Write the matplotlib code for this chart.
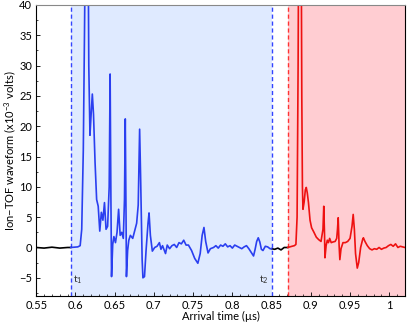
import matplotlib
matplotlib.use('Agg')
import matplotlib.pyplot as plt
import numpy as np

plt.rcParams['font.family'] = ['Lato', 'DejaVu Sans']
plt.rcParams['mathtext.fontset'] = 'custom'
plt.rcParams['mathtext.rm'] = 'Lato'
plt.rcParams['mathtext.it'] = 'Lato:italic'

# gate times (us)
t1 = 0.594
t2 = 0.85
t3 = 0.8706

# ion-TOF trace, (arrival time us, signal x1e-3 V)
time = [
    0.55, 0.56, 0.57, 0.58, 0.59, 0.594,
    0.603, 0.606, 0.608, 0.610, 0.6115, 0.612, 0.6165, 0.617, 0.6185, 0.620,
    0.6215, 0.623, 0.625, 0.627, 0.629, 0.631, 0.633, 0.635, 0.637, 0.639,
    0.641, 0.643, 0.6442, 0.6452, 0.646, 0.6475, 0.649, 0.651, 0.653, 0.655,
    0.657, 0.659, 0.661, 0.6625, 0.6635, 0.6645, 0.665, 0.6665, 0.668, 0.670,
    0.673, 0.676, 0.678, 0.680, 0.6818, 0.683, 0.685, 0.686, 0.688, 0.690,
    0.6925, 0.6938, 0.6955, 0.698, 0.701, 0.704, 0.707, 0.709, 0.711, 0.7148,
    0.717, 0.720, 0.723, 0.726, 0.729, 0.732, 0.735, 0.738, 0.741, 0.744,
    0.748, 0.752, 0.756, 0.759, 0.7615, 0.7638, 0.766, 0.769, 0.772, 0.776,
    0.779, 0.782, 0.785, 0.788, 0.791, 0.794, 0.797, 0.800, 0.803, 0.806,
    0.809, 0.812, 0.815, 0.818, 0.821, 0.824, 0.827, 0.829, 0.831, 0.833,
    0.835, 0.837, 0.839, 0.842, 0.845, 0.848, 0.85,
    0.854, 0.858, 0.862, 0.866, 0.8706,
    0.876, 0.879, 0.881, 0.8825, 0.8838, 0.8842, 0.8880, 0.8885, 0.8893, 0.890,
    0.8915, 0.893, 0.8942, 0.8955, 0.897, 0.899, 0.901, 0.904, 0.907, 0.910,
    0.913, 0.9155, 0.9165, 0.9175, 0.918, 0.9195, 0.921, 0.9225, 0.924, 0.926,
    0.928, 0.931, 0.933, 0.934, 0.9349, 0.936, 0.937, 0.9385, 0.941, 0.944,
    0.947, 0.950, 0.9525, 0.954, 0.9555, 0.957, 0.9592, 0.961, 0.9635, 0.966,
    0.967, 0.969, 0.972, 0.975, 0.978, 0.981, 0.984, 0.987, 0.990, 0.993,
    0.996, 0.999, 1.002, 1.005, 1.008, 1.011, 1.014, 1.017, 1.02,
]
signal = [
    0.0, -0.1, 0.05, -0.1, 0.0, 0.0,
    0.1, 0.3, 3, 16, 35, 42, 42, 30, 18.5, 22,
    25.3, 22, 14, 7.9, 6.8, 2.7, 5.8, 4.5, 7.4, 3,
    3.5, 10, 28.6, 8, -4.8, 0.5, 1.8, 0.8, 2.5, 6.3,
    2, 2.5, 1.5, 8, 21.2, 5, -4.8, -0.5, 1.2, 2.0,
    1.5, 3.0, 4.0, 7, 19.5, 12, -2, -5, -4.8, -0.5,
    4, 5.7, 2, -0.6, 0.0, 0.2, 0.8, -0.3, 0.3, -1.0,
    0.4, -0.2, 0.3, 0.5, 0.0, 0.8, 0.6, 1.2, 0.4, 0.4,
    -0.5, -1.8, -2.6, -1.0, 2.0, 3.3, 1.0, -0.9, -0.2, 0.0,
    0.3, -0.1, 0.4, 0.2, 0.6, 0.1, 0.3, -0.1, 0.4, 0.2,
    0.0, -0.2, 0.1, 0.3, -0.2, -0.8, -1.4, -0.3, 1.0, 1.6,
    0.9, -0.3, -0.5, 0.2, 0.1, -0.2, -0.2,
    -0.3, -0.1, -0.4, 0.0, 0.0,
    0.2, 0.3, 0.5, 5, 30, 42, 42, 25, 10, 6.3,
    7.5, 9.5, 9.9, 9, 7.4, 4.5, 3.25, 2.5, 1.7, 1.3,
    1.0, 3, 6.8, 2, -1.7, 0.3, 1.2, 0.8, 1.5, 0.8,
    0.9, 1.0, 1.5, 3, 4.9, 0.5, -2.0, -0.2, 0.8, 0.8,
    1.0, 1.5, 3.5, 5.45, 3, -1, -3.4, -2.5, 0, 1.3,
    1.6, 1.0, 0.3, -0.2, -0.4, -0.2, -0.3, 0.0, -0.3, -0.1,
    0.0, 0.3, 0.5, 0.2, 0.6, 0.0, 0.2, 0.1, 0.0,
]
time = np.array(time)
signal = np.array(signal)

fig = plt.figure(figsize=(4.07, 3.26), dpi=100)
ax = fig.add_axes([0.089, 0.092, 0.906, 0.893])

xmin, xmax = 0.55, 1.02
ax.axvspan(t1, t2, color='#dfeaff', lw=0)
ax.axvspan(t3, xmax, color='#ffcdd2', lw=0)
ax.axvline(t1, color='#3344ff', ls=(0, (3, 2)), lw=1)
ax.axvline(t2, color='#3344ff', ls=(0, (3, 2)), lw=1)
ax.axvline(t3, color='#ff3333', ls=(0, (3, 2)), lw=1)

pre = time <= t1
gate1 = (time >= t1) & (time <= t2)
mid = (time >= t2) & (time <= t3)
gate2 = time >= t3
ax.plot(time[pre], signal[pre], color='black', lw=1.2)
ax.plot(time[mid], signal[mid], color='black', lw=1.2)
ax.plot(time[gate1], signal[gate1], color='#2a3ff0', lw=1.2)
ax.plot(time[gate2], signal[gate2], color='#ee1111', lw=1.2)

ax.text(t1 + 0.003, -5.3, r'$\mathrm{t_1}$', fontsize=7.5, color='#333333', va='center')
ax.text(t2 - 0.004, -5.3, r'$\mathrm{t_2}$', fontsize=7.5, color='#333333', va='center', ha='right')

ax.set_xlim(xmin, xmax)
ax.set_ylim(-8, 40)
ax.set_xticks([0.55, 0.6, 0.65, 0.7, 0.75, 0.8, 0.85, 0.9, 0.95, 1])
ax.set_xticklabels(['0.55', '0.6', '0.65', '0.7', '0.75', '0.8', '0.85', '0.9', '0.95', '1'])
ax.set_xticks(np.arange(0.55, 1.02, 0.01), minor=True)
ax.set_yticks([-5, 0, 5, 10, 15, 20, 25, 30, 35, 40])
ax.set_yticks(np.arange(-7.5, 40, 2.5), minor=True)
ax.tick_params(direction='in', labelsize=8, length=3, width=0.6, pad=3)
ax.tick_params(which='minor', direction='in', length=1.5, width=0.5)
for s in ax.spines.values():
    s.set_linewidth(0.8)
ax.spines['top'].set_color('#888888')

ax.set_xlabel('Arrival time (µs)', fontsize=8, labelpad=0)
ax.set_ylabel(r'Ion$-$TOF waveform (x10$^{-3}$ volts)', fontsize=8, labelpad=1)

fig.savefig('out.png', dpi=100)
